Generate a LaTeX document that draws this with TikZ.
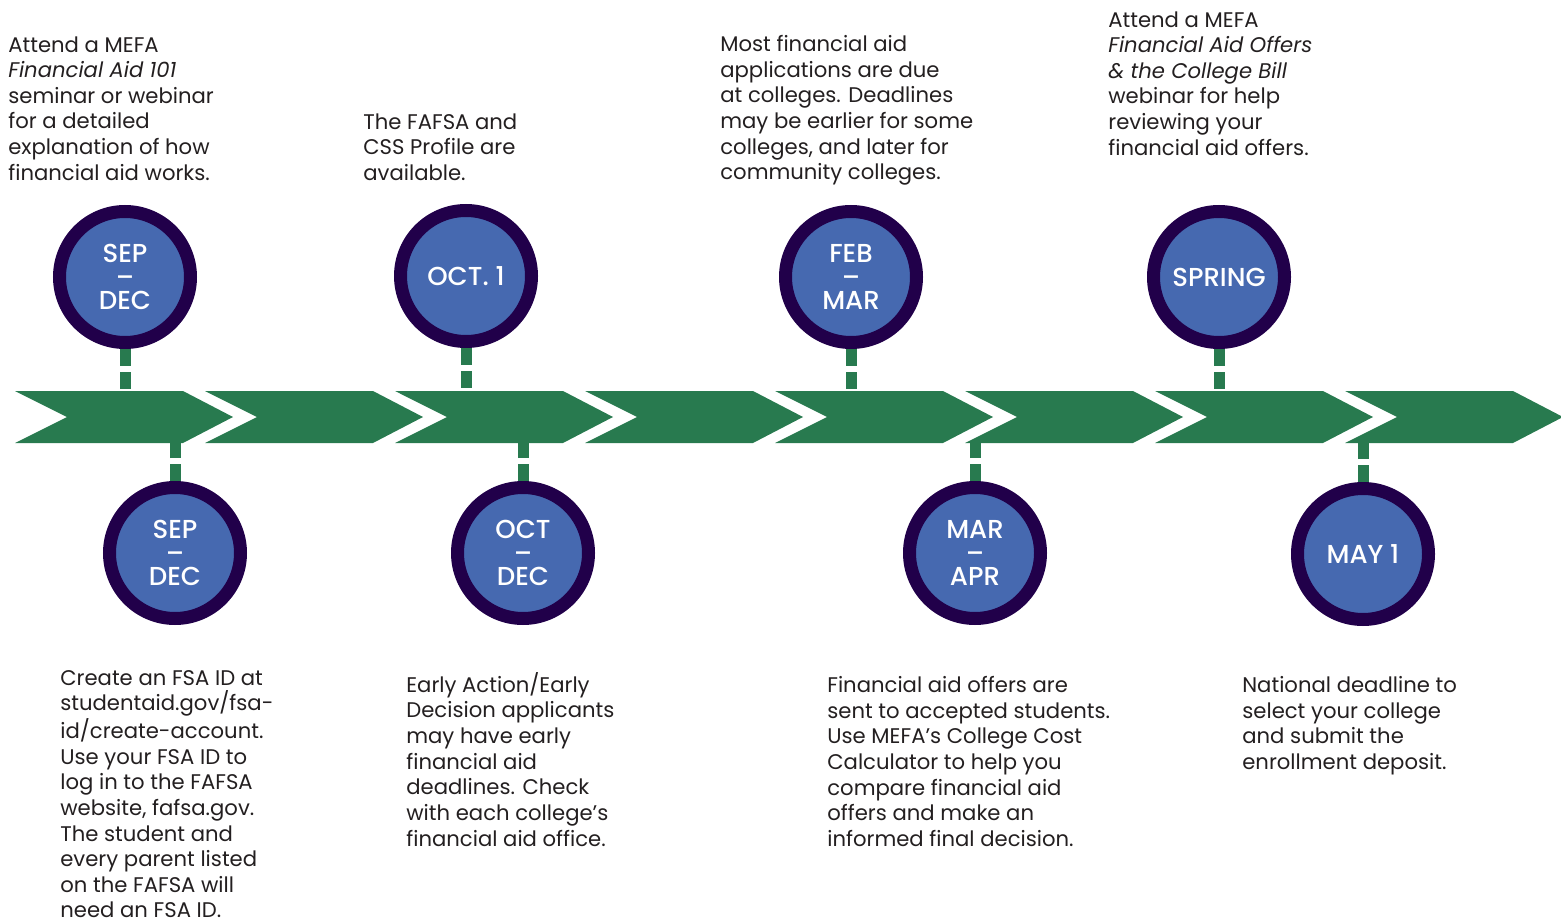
\documentclass[tikz,border=0pt]{standalone}
\usepackage{fontspec}
\setmainfont{Poppins}
\IfFontExistsTF{Poppins Medium}{\newfontfamily\datefont{Poppins Medium}}{\newfontfamily\datefont{Poppins}}
\definecolor{bandgreen}{HTML}{287A4F}
\definecolor{ringpurple}{HTML}{21004A}
\definecolor{dateblue}{HTML}{4669B0}
\definecolor{inkgray}{HTML}{231F20}

\begin{document}
\begin{tikzpicture}
            [
            date/.style={circle,draw=ringpurple,line width=0.26cm,fill=dateblue,
                minimum size=2.62cm,inner sep=0pt,text=white,align=center,
                font={\datefont\fontsize{14.8}{13.2}\selectfont}},
            link/.style={draw=bandgreen,line width=0.22cm,
                dash pattern=on 0.34cm off 0.12cm},
            chevron/.style={fill=bandgreen},
            blurb/.style={anchor=north west,inner sep=0pt,align=left,text=inkgray,
                font={\fontsize{12.05}{14.6}\selectfont}},
            ]
            \useasboundingbox (0,0) rectangle (31.22,-18.36);
            % Band edges
            \coordinate (bandtop) at (0,-7.82);
            \coordinate (bandbot) at (0,-8.86);

            % Chevrons
            \foreach \k in {0,...,7}
                \fill[chevron] ({0.3+3.8*\k},-7.82) -- ++(3.36,0) -- ++(1,-0.52)
                    -- ++(-1,-0.52) -- ++(-3.36,0) -- ++(1.04,0.52) -- cycle;

            % Dates above the band
            \node[date] (sepdecA) at (2.50,-5.54) {SEP\\–\\DEC};
            \node[date] (octone) at (9.32,-5.52) {OCT. 1};
            \node[date] (febmar) at (17.02,-5.54) {FEB\\–\\MAR};
            \node[date] (spring) at (24.38,-5.54) {SPRING};

            % Dates below the band
            \node[date] (sepdecB) at (3.50,-11.06) {SEP\\–\\DEC};
            \node[date] (octdec) at (10.46,-11.06) {OCT\\–\\DEC};
            \node[date] (marapr) at (19.50,-11.06) {MAR\\–\\APR};
            \node[date] (mayone) at (27.26,-11.08) {MAY 1};

            % Dashed links
            \draw[link] (sepdecA.south) -- (sepdecA.south |- bandtop);
            \draw[link] (octone.south) -- (octone.south |- bandtop);
            \draw[link] (febmar.south) -- (febmar.south |- bandtop);
            \draw[link] (spring.south) -- (spring.south |- bandtop);
            \draw[link] (sepdecB.north) -- (sepdecB.north |- bandbot);
            \draw[link] (octdec.north) -- (octdec.north |- bandbot);
            \draw[link] (marapr.north) -- (marapr.north |- bandbot);
            \draw[link] (mayone.north) -- (mayone.north |- bandbot);

            % Notes above
            \node[blurb] (seminar) at (0.16,-0.72) {Attend a MEFA\\\textit{Financial Aid 101}\\seminar or webinar\\for a detailed\\explanation of how\\financial aid works.};
            \node[blurb] (fafsaopen) at (7.26,-2.26) {The FAFSA and\\CSS Profile are\\available.};
            \node[blurb] (duedates) at (14.40,-0.70) {Most financial aid\\applications are due\\at colleges. Deadlines\\may be earlier for some\\colleges, and later for\\community colleges.};
            \node[blurb] (offerwebinar) at (22.16,-0.22) {Attend a MEFA\\\textit{Financial Aid Offers}\\\textit{\& the College Bill}\\webinar for help\\reviewing your\\financial aid offers.};

            % Notes below
            \node[blurb] (fsaid) at (1.20,-13.40) {Create an FSA ID at\\studentaid.gov/fsa-\\id/create-account.\\Use your FSA ID to\\log in to the FAFSA\\website, fafsa.gov.\\The student and\\every parent listed\\on the FAFSA will\\need an FSA ID.};
            \node[blurb] (earlyaction) at (8.12,-13.44) {Early Action/Early\\Decision applicants\\may have early\\financial aid\\deadlines. Check\\with each college’s\\financial aid office.};
            \node[blurb] (aidoffers) at (16.54,-13.52) {Financial aid offers are\\sent to accepted students.\\Use MEFA’s College Cost\\Calculator to help you\\compare financial aid\\offers and make an\\informed final decision.};
            \node[blurb] (deposit) at (24.84,-13.52) {National deadline to\\select your college\\and submit the\\enrollment deposit.};
\end{tikzpicture}
\end{document}
